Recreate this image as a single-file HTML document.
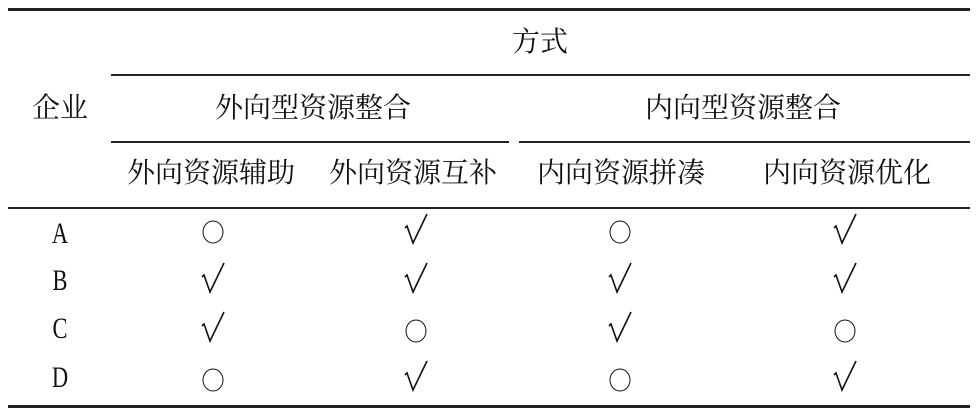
<!DOCTYPE html>
<html><head><meta charset="utf-8"><style>
html,body{margin:0;padding:0;background:#fff;}
#c{position:relative;width:976px;height:416px;overflow:hidden;font-family:"Liberation Serif","Noto Serif CJK SC",serif;color:#111;}
.t{position:absolute;transform:translate(-50%,-50%);white-space:nowrap;font-size:28px;line-height:1;}
.l{position:absolute;background:#222;}
.a{font-family:"Liberation Serif",serif;font-size:30px;transform:translate(-50%,-50%) scaleX(0.75);}
.o{position:absolute;width:19px;height:21px;border:1.5px solid #111;border-radius:50%;transform:translate(-50%,-50%);}
svg.k{position:absolute;width:24px;height:30px;transform:translate(-50%,-50%);overflow:visible;}
</style></head><body><div id="c">
<div class="l" style="left:8px;top:8px;width:962px;height:3px"></div>
<div class="l" style="left:111px;top:74px;width:859px;height:2px"></div>
<div class="l" style="left:111px;top:141px;width:398px;height:2px"></div>
<div class="l" style="left:519px;top:141px;width:451px;height:2px"></div>
<div class="l" style="left:8px;top:207px;width:962px;height:2px"></div>
<div class="l" style="left:8px;top:405px;width:962px;height:3px"></div>

<div class="t" style="left:540px;top:43px">方式</div>
<div class="t" style="left:60px;top:109px">企业</div>
<div class="t" style="left:313px;top:109px">外向型资源整合</div>
<div class="t" style="left:743px;top:109px">内向型资源整合</div>
<div class="t" style="left:211px;top:174px">外向资源辅助</div>
<div class="t" style="left:413px;top:174px">外向资源互补</div>
<div class="t" style="left:621px;top:174px">内向资源拼凑</div>
<div class="t" style="left:847px;top:174px">内向资源优化</div>

<div class="t a" style="left:60px;top:234px">A</div>
<div class="t a" style="left:60px;top:281px">B</div>
<div class="t a" style="left:60px;top:329px">C</div>
<div class="t a" style="left:60px;top:378px">D</div>

<svg width="0" height="0" style="position:absolute"><defs><path id="ck" d="M1,14 L3,12 L9,29 L23,0" fill="none" stroke="#111" stroke-width="1.6"/></defs></svg>

<div class="o" style="left:213px;top:232px"></div>
<svg class="k" style="left:416px;top:229px"><use href="#ck"/></svg>
<div class="o" style="left:620px;top:232px"></div>
<svg class="k" style="left:845px;top:229px"><use href="#ck"/></svg>

<svg class="k" style="left:213px;top:278px"><use href="#ck"/></svg>
<svg class="k" style="left:416px;top:278px"><use href="#ck"/></svg>
<svg class="k" style="left:620px;top:278px"><use href="#ck"/></svg>
<svg class="k" style="left:845px;top:278px"><use href="#ck"/></svg>

<svg class="k" style="left:213px;top:327px"><use href="#ck"/></svg>
<div class="o" style="left:416px;top:331px"></div>
<svg class="k" style="left:620px;top:327px"><use href="#ck"/></svg>
<div class="o" style="left:845px;top:331px"></div>

<div class="o" style="left:213px;top:380px"></div>
<svg class="k" style="left:416px;top:376px"><use href="#ck"/></svg>
<div class="o" style="left:620px;top:380px"></div>
<svg class="k" style="left:845px;top:376px"><use href="#ck"/></svg>
</div></body></html>
